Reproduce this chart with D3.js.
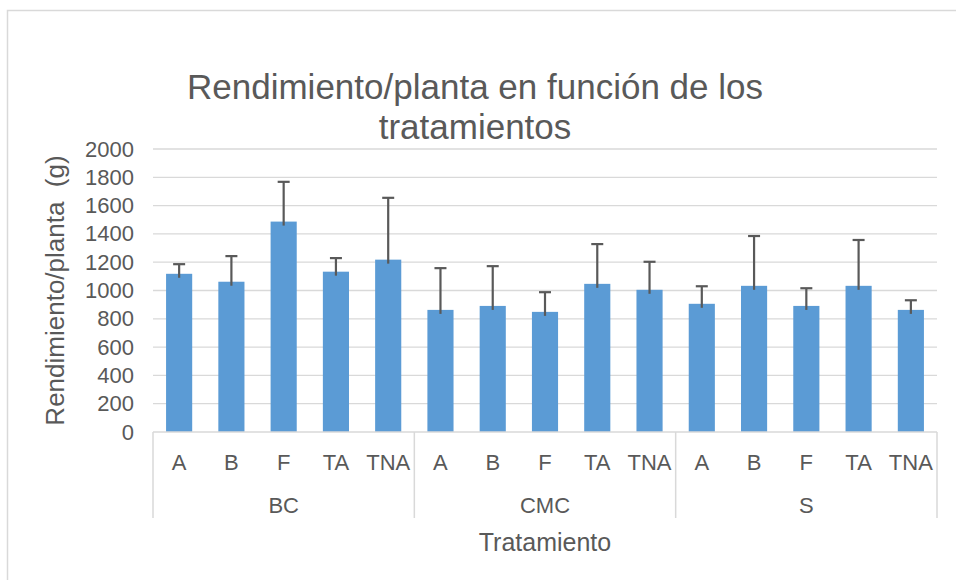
<!DOCTYPE html>
<head>
<meta charset="utf-8">
<title>Rendimiento/planta</title>
<script type="text/javascript" src="https://d3js.org/d3.v7.min.js"></script>
<style>
  body { margin: 0; background: #fff; }
  svg text { font-family: "Liberation Sans", Arial, sans-serif; fill: #595959; }
</style>
</head>
<body>
<div id="chart"></div>
<script>

//---------------------------DATA-------------------------------//
const groups = ["BC", "CMC", "S"];
const treatments = ["A", "B", "F", "TA", "TNA"];
// mean yield per plant (g), one row per group
const meanBC  = [1118, 1062, 1487, 1133, 1218];
const meanCMC = [863, 891, 849, 1047, 1005];
const meanS   = [906, 1033, 891, 1033, 863];
// error bar (plus only)
const errBC  = [68, 181, 281, 96, 437];
const errCMC = [295, 281, 139, 281, 198];
const errS   = [124, 352, 125, 324, 68];
const yTicks = [0, 200, 400, 600, 800, 1000, 1200, 1400, 1600, 1800, 2000];

const means = [meanBC, meanCMC, meanS];
const errs = [errBC, errCMC, errS];
const rows = [];
groups.forEach(function(g, gi) {
    treatments.forEach(function(t, ti) {
        rows.push({ key: g + "-" + t, group: g, treat: t, value: means[gi][ti], err: errs[gi][ti] });
    });
});

//---------------------------SVG--------------------------------//
const width = 956;
const height = 580;
const plotL = 153, plotR = 937, plotT = 149, plotB = 432;

const svg = d3.select("#chart").append("svg")
    .attr("width", width)
    .attr("height", height);

// chart frame (only top/left edges fall inside the picture)
svg.append("rect")
    .attr("x", 7.5).attr("y", 10.5)
    .attr("width", 1000).attr("height", 1000)
    .attr("fill", "none")
    .attr("stroke", "#d9d9d9")
    .attr("stroke-width", 1.5);

//--------------------------SCALES------------------------------//
const x = d3.scaleBand()
    .domain(rows.map(d => d.key))
    .range([plotL, plotR])
    .paddingInner(0.5)
    .paddingOuter(0.25);

const y = d3.scaleLinear()
    .domain([0, 2000])
    .range([plotB, plotT]);

const xGroup = d3.scaleBand()
    .domain(groups)
    .range([plotL, plotR]);

//---------------------------GRID-------------------------------//
svg.append("g")
    .selectAll("line")
    .data(yTicks.filter(v => v > 0))
    .enter().append("line")
    .attr("x1", plotL).attr("x2", plotR)
    .attr("y1", d => y(d)).attr("y2", d => y(d))
    .attr("stroke", "#d9d9d9")
    .attr("stroke-width", 1.3);

//--------------------------Y AXIS------------------------------//
const yaxis = d3.axisLeft(y)
    .tickValues(yTicks)
    .tickFormat(d3.format("d"))
    .tickSize(0)
    .tickPadding(19);

const gy = svg.append("g")
    .attr("transform", "translate(" + plotL + ",0)")
    .call(yaxis);
gy.select(".domain").remove();
gy.selectAll("text")
    .style("font-size", "22px")
    .style("fill", "#595959")
    .style("font-family", "'Liberation Sans', Arial, sans-serif");

//---------------------------BARS-------------------------------//
svg.append("g")
    .selectAll("rect")
    .data(rows)
    .enter().append("rect")
    .attr("x", d => x(d.key))
    .attr("y", d => y(d.value))
    .attr("width", x.bandwidth())
    .attr("height", d => y(0) - y(d.value))
    .attr("fill", "#5b9bd5");

//------------------------ERROR BARS----------------------------//
const eb = svg.append("g")
    .attr("stroke", "#595959")
    .attr("stroke-width", 2.2);

eb.selectAll(".stem")
    .data(rows)
    .enter().append("line")
    .attr("x1", d => x(d.key) + x.bandwidth() / 2)
    .attr("x2", d => x(d.key) + x.bandwidth() / 2)
    .attr("y1", d => y(d.value) + 4)
    .attr("y2", d => y(d.value + d.err));

eb.selectAll(".cap")
    .data(rows)
    .enter().append("line")
    .attr("x1", d => x(d.key) + x.bandwidth() / 2 - 6)
    .attr("x2", d => x(d.key) + x.bandwidth() / 2 + 6)
    .attr("y1", d => y(d.value + d.err))
    .attr("y2", d => y(d.value + d.err));

//--------------------------X AXIS------------------------------//
svg.append("line")
    .attr("x1", plotL).attr("x2", plotR)
    .attr("y1", y(0)).attr("y2", y(0))
    .attr("stroke", "#d9d9d9")
    .attr("stroke-width", 1.5);

// group separators
svg.append("g")
    .selectAll("line")
    .data(groups.map(g => xGroup(g)).concat([plotR]))
    .enter().append("line")
    .attr("x1", d => d).attr("x2", d => d)
    .attr("y1", y(0)).attr("y2", 518)
    .attr("stroke", "#d9d9d9")
    .attr("stroke-width", 1.5);

svg.append("g")
    .selectAll("text")
    .data(rows)
    .enter().append("text")
    .attr("x", d => x(d.key) + x.bandwidth() / 2)
    .attr("y", 470)
    .attr("text-anchor", "middle")
    .style("font-size", "22px")
    .text(d => d.treat);

svg.append("g")
    .selectAll("text")
    .data(groups)
    .enter().append("text")
    .attr("x", d => xGroup(d) + xGroup.bandwidth() / 2)
    .attr("y", 513)
    .attr("text-anchor", "middle")
    .style("font-size", "22px")
    .text(d => d);

//--------------------------TITLES------------------------------//
const title = svg.append("text")
    .attr("text-anchor", "middle")
    .style("font-size", "35px");
title.append("tspan").attr("x", 475).attr("y", 99).text("Rendimiento/planta en función de los");
title.append("tspan").attr("x", 475).attr("y", 139).text("tratamientos");

svg.append("text")
    .attr("x", (plotL + plotR) / 2)
    .attr("y", 551)
    .attr("text-anchor", "middle")
    .style("font-size", "25px")
    .text("Tratamiento");

svg.append("text")
    .attr("transform", "translate(64," + ((plotT + plotB) / 2) + ") rotate(-90)")
    .attr("text-anchor", "middle")
    .style("font-size", "26px")
    .style("white-space", "pre")
    .text("Rendimiento/planta  (g)");

</script>
</body>
